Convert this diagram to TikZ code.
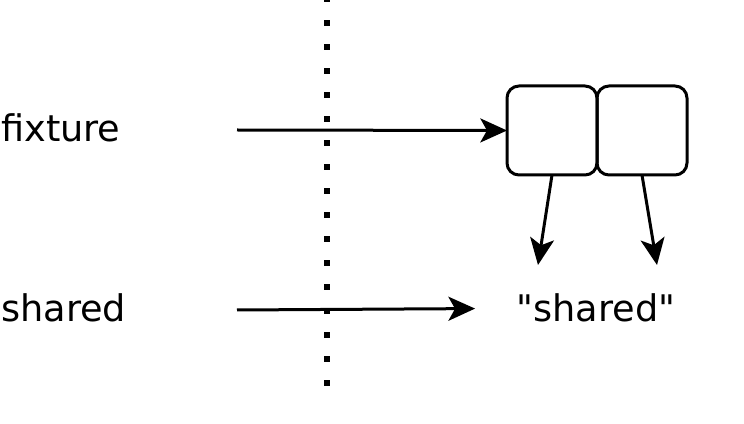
\documentclass[tikz,border=0pt]{standalone}
\usepackage{fontspec}
\newfontfamily\plainfont{DejaVu Sans}
\usetikzlibrary{arrows.meta,positioning}
\tikzset{
	cell/.style={draw, line width=2.25pt, rounded corners=9pt, minimum width=67.5pt, minimum height=66.75pt, outer sep=0pt, inner sep=0pt},
	ptr/.style={line width=2.25pt, -{Stealth[length=20pt, width=18pt, inset=5pt]}},
	lbl/.style={inner sep=0pt, font=\plainfont\fontsize{27.5}{32}\selectfont}
}
\begin{document}
\begin{tikzpicture}[x=0.75pt, y=-0.75pt]
		\useasboundingbox (0,0) rectangle (744,424);
		% boundary
		\clip (0,0) rectangle (744,424);
		\draw[line width=4.5pt, dash pattern=on 4.5pt off 13.5pt] (327,386) -- (327,-20);
		% names
		\node[lbl, anchor=base west] (fixname) at (1,142) {fixture};
		\node[lbl, anchor=base west] (sharedname) at (1,322) {shared};
		\coordinate (fixtail) at (237,130);
		\coordinate (sharetail) at (237,310);
		% objects
		\node[cell] (cellA) at (552,130.5) {};
		\node[cell, right=0pt of cellA] (cellB) {};
		\node[lbl, anchor=base] (sharedval) at (596,322) {"shared"};
		\coordinate (headA) at (538,265);
		\coordinate (headB) at (657,265);
		% pointers
		\draw[ptr] (fixtail) -- (cellA.west);
		\draw[ptr, shorten >=31pt] (sharetail) -- (sharedval.west);
		\draw[ptr] (cellA.south) -- (headA);
		\draw[ptr] (cellB.south) -- (headB);
	\end{tikzpicture}
\end{document}
